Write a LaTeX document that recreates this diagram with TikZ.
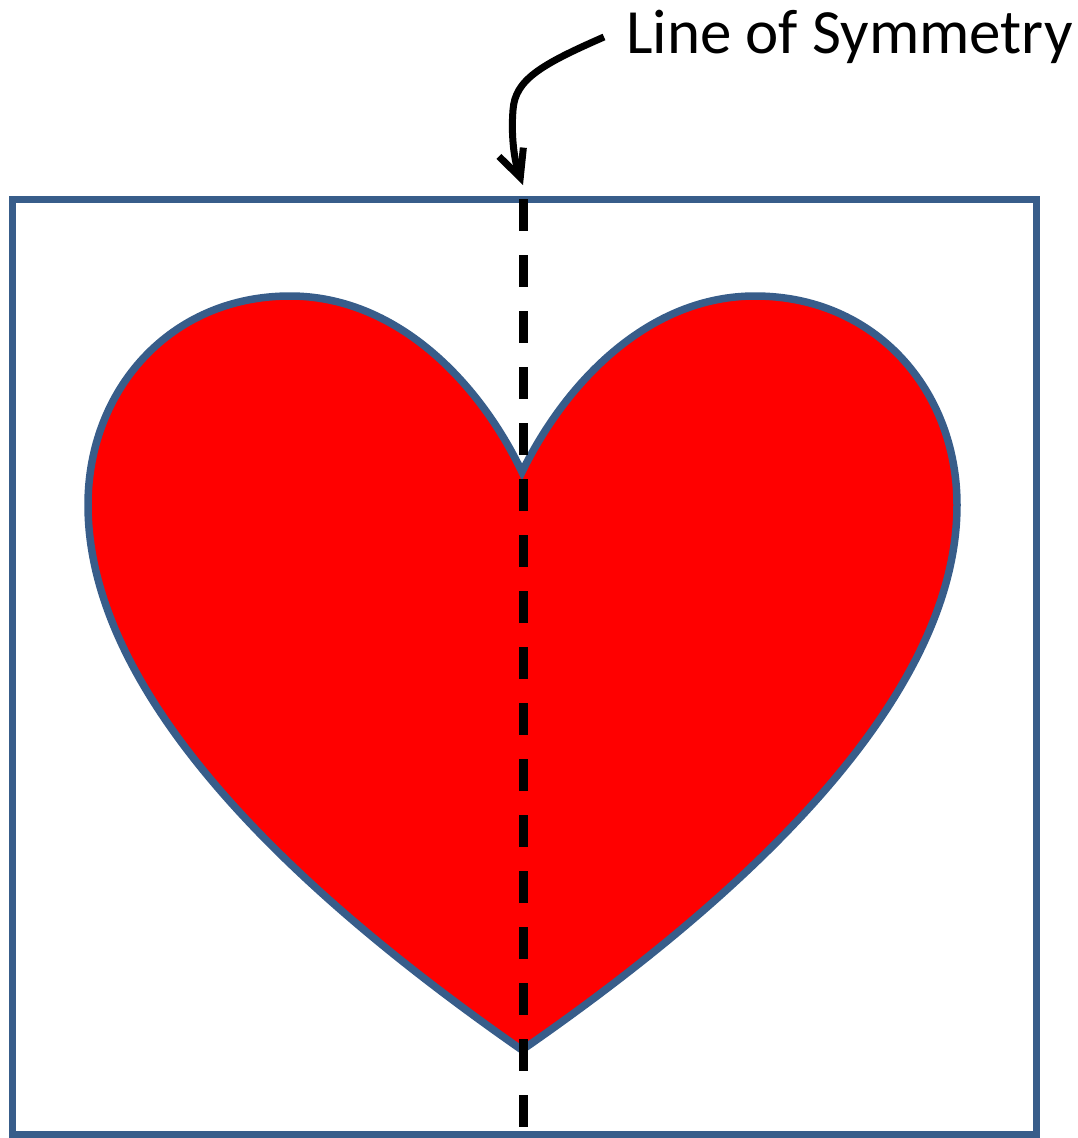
\documentclass[tikz,border=0pt]{standalone}
\usepackage{fontspec}
\setmainfont{Carlito}
\usetikzlibrary{arrows.meta}
\definecolor{heartblue}{RGB}{56,93,138}
\definecolor{heartred}{RGB}{255,0,0}

\begin{document}
\begin{tikzpicture}[x=1pt,y=-1pt,
  frame/.style={draw=heartblue, line width=7pt},
  heart/.style={draw=heartblue, fill=heartred, line width=7.5pt, line join=miter},
  symline/.style={line width=9pt, dash pattern=on 32pt off 24pt},
  pointer/.style={line width=7pt, -{Straight Barb[length=27pt,width=26pt]}}]
\useasboundingbox (0,0) rectangle (1078,1138);
\draw[frame] (12,199) rectangle (1036,1134);
% heart
\draw[heart] (522,472)
  .. controls (478,380) and (395,296) .. (290,296)
  .. controls (170,296) and (88,390) .. (88,505)
  .. controls (88,720) and (350,930) .. (522,1050)
  .. controls (695,930) and (957,720) .. (957,505)
  .. controls (957,390) and (875,296) .. (755,296)
  .. controls (650,296) and (567,380) .. (522,472) -- cycle;
% axis
\coordinate (axistop) at (523.5,199);
\coordinate (axisbottom) at (523.5,1127);
\draw[symline] (axistop) -- (axisbottom);
% label
\node[anchor=base west, inner sep=0pt, font=\fontsize{63}{70}\selectfont] (symlabel) at (626,53) {Line of Symmetry};
\coordinate (arrowstart) at (604,37);
\coordinate (arrowtip) at (523,185);
\draw[pointer] (arrowstart) .. controls (540,65) and (515,80) .. (513,110)
  .. controls (511,135) and (514,160) .. (arrowtip);
\end{tikzpicture}
\end{document}
